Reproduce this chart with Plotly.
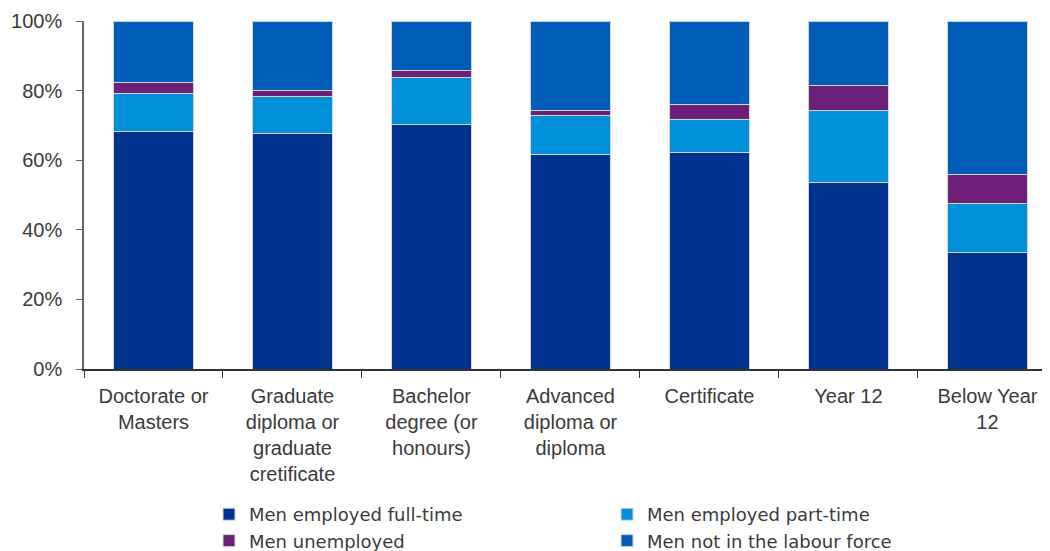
import plotly.graph_objects as go

categories = [
    "Doctorate or<br>Masters",
    "Graduate<br>diploma or<br>graduate<br>cretificate",
    "Bachelor<br>degree (or<br>honours)",
    "Advanced<br>diploma or<br>diploma",
    "Certificate",
    "Year 12",
    "Below Year<br>12",
]
full_time = [68.2, 67.8, 70.2, 61.5, 62.2, 53.5, 33.6]
part_time = [10.9, 10.4, 13.7, 11.3, 9.6, 20.9, 14.0]
unemployed = [3.3, 1.7, 2.0, 1.4, 4.3, 7.0, 8.3]
not_in_lf = [17.6, 20.1, 14.1, 25.8, 23.9, 18.6, 44.1]

series_names = ["Men employed full-time", "Men employed part-time",
                "Men unemployed", "Men not in the labour force"]
series_values = [full_time, part_time, unemployed, not_in_lf]
colors = ["#00338D", "#0091DA", "#6D2077", "#005EB8"]
legends = ["legend", "legend2", "legend", "legend2"]

y_ticks = [0, 20, 40, 60, 80, 100]
y_tick_labels = ["0%", "20%", "40%", "60%", "80%", "100%"]

FONT = "Liberation Sans, Arial, sans-serif"
LEG_FONT = "DejaVu Sans, sans-serif"
TXT = "#3a3a3a"

# page body adds an 8px offset; the figure is sized so the plot lands where the reference has it
W, H = 1042, 551

fig = go.Figure()
for name, vals, col, lg in zip(series_names, series_values, colors, legends):
    fig.add_trace(go.Bar(
        x=categories, y=vals, name=name,
        marker=dict(color=col, line=dict(color="#d4d4d4", width=1)),
        legend=lg,
    ))

leg_common = dict(
    xref="container", yref="container",
    yanchor="top", xanchor="left", y=1 - 488 / H,
    orientation="v", font=dict(family=LEG_FONT, size=18, color=TXT),
    bgcolor="rgba(0,0,0,0)", traceorder="normal",
    itemwidth=30, tracegroupgap=0, borderwidth=0,
)

fig.update_layout(
    width=W, height=H,
    barmode="stack", bargap=0.425,
    margin=dict(l=76, r=0, t=13, b=190, autoexpand=False),
    plot_bgcolor="white", paper_bgcolor="white",
    font=dict(family=FONT, size=20, color=TXT),
    legend=dict(x=201 / W, **leg_common),
    legend2=dict(x=599 / W, **leg_common),
)
fig.update_xaxes(
    type="category", range=[-0.5, 6.45], automargin=False,
    showline=True, linecolor="#333333", linewidth=1.5,
    ticks="outside", tickson="boundaries", ticklen=7, tickcolor="#333333",
    tickfont=dict(size=20, color=TXT), showgrid=False,
    ticklabelstandoff=8,
)
fig.update_yaxes(
    range=[0, 100], tickmode="array", tickvals=y_ticks, ticktext=y_tick_labels,
    automargin=False,
    showline=True, linecolor="#666666", linewidth=1.5,
    ticks="outside", ticklen=6, tickcolor="#666666",
    tickfont=dict(size=20, color=TXT), showgrid=False, zeroline=False,
    ticklabelstandoff=10,
)

fig.write_html("out.html")
